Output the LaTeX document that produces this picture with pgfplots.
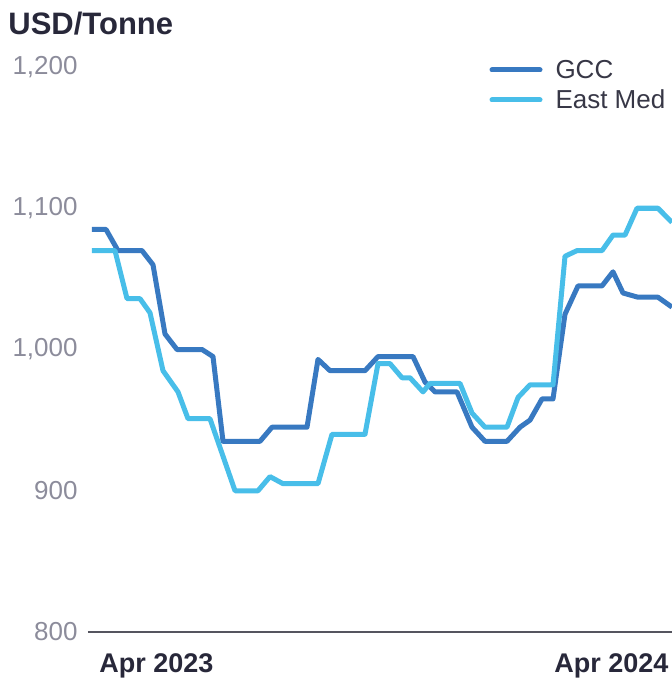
\documentclass[border=0pt]{standalone}
\usepackage{pgfplots}
\pgfplotsset{compat=1.18}
\usepackage{fontspec}
\setmainfont{Liberation Sans}
\definecolor{gcc}{RGB}{56,121,193}
\definecolor{emed}{RGB}{72,190,233}
\definecolor{ylab}{RGB}{140,140,155}
\definecolor{darktxt}{RGB}{40,40,58}
\definecolor{legtxt}{RGB}{55,55,70}
\definecolor{axisc}{RGB}{85,85,95}
\begin{document}
\begin{tikzpicture}
\path[use as bounding box] (-44pt,-23.5pt) rectangle (292pt,316pt);
\begin{axis}[
  scale only axis, width=292pt, height=282.5pt,
  xmin=88, xmax=672, ymin=800, ymax=1200,
  separate axis lines,
  axis x line*=bottom, axis y line*=left,
  y axis line style={draw=none},
  x axis line style={draw=axisc, line width=1pt, -},
  major tick length=0pt,
  xtick={156.5,611.5},
  xticklabels={Apr 2023, Apr 2024},
  xticklabel style={anchor=base, yshift=-20pt, inner sep=0pt, font=\bfseries\fontsize{13.5}{16}\selectfont, text=darktxt},
  ytick={800,900,1000,1100,1200},
  yticklabels={800,900,{1,000},{1,100},{1,200}},
  yticklabel style={anchor=east, inner sep=0pt, xshift=-5pt, font=\fontsize{13}{15}\selectfont, text=ylab},
  legend style={at={(0.6875,1.0124)}, anchor=north west, draw=none, fill=none,
    inner sep=0pt, outer sep=0pt, row sep=2.5pt,
    nodes={inner sep=0pt, text height=9.5pt, text depth=3pt, anchor=base west},
    font=\fontsize{13}{15}\selectfont, text=legtxt,
    /tikz/every even column/.append style={column sep=9pt}},
  legend cell align=left,
  legend image code/.code={\path (0pt,0pt) (30.5pt,0pt); \draw[#1, line width=2.5pt, line cap=round] (0pt,4.5pt) -- (24pt,4.5pt);},
]
\addplot[gcc, line width=2.5pt, line join=round] coordinates {
(92,1085) (106,1085) (118,1070) (142,1070) (153,1060) (165,1011) (177,1000)
(202,1000) (213,995) (223,935) (260,935) (272,945) (307,945) (318,993)
(330,985) (365,985) (378,995) (413,995) (425,977) (435,970) (457,970)
(472,945) (485,935) (507,935) (520,945) (530,950) (542,965) (553,965)
(565,1025) (578,1045) (602,1045) (613,1055) (623,1040) (638,1037)
(658,1037) (672,1030)
};
\addlegendentry{GCC}
\addplot[emed, line width=2.5pt, line join=round] coordinates {
(92,1070) (115,1070) (127,1036) (140,1036) (150,1026) (163,985) (178,970)
(188,951) (210,951) (235,900) (258,900) (270,910) (283,905) (318,905)
(332,940) (365,940) (378,990) (390,990) (402,980) (410,980) (423,970)
(430,976) (460,976) (472,955) (485,945) (507,945) (518,966) (530,975)
(553,975) (565,1066) (577,1070) (602,1070) (613,1081) (625,1081)
(637,1100) (658,1100) (672,1090)
};
\addlegendentry{East Med}
\end{axis}
\node[anchor=base west, inner sep=0pt, font=\bfseries\fontsize{15.5}{18}\selectfont, text=darktxt] at (-40pt,298.5pt) {USD/Tonne};
\end{tikzpicture}
\end{document}
